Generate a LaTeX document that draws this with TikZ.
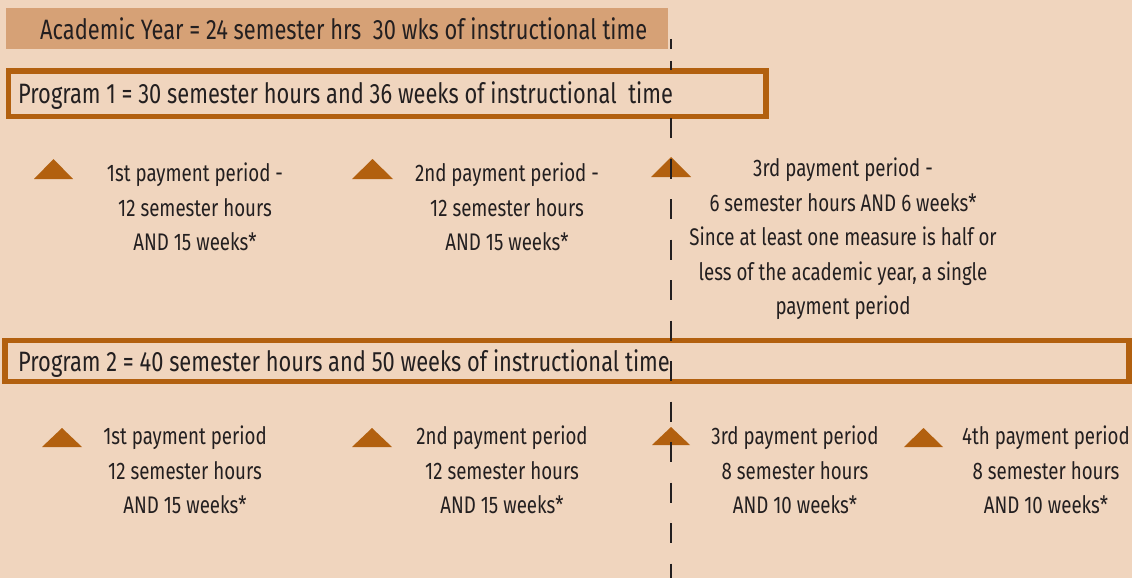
\documentclass[tikz,border=0pt]{standalone}
\usepackage{fontspec}
\setmainfont[FakeStretch=0.78]{Fira Sans}
\definecolor{bgc}{HTML}{F0D5BE}
\definecolor{barc}{HTML}{D6A176}
\definecolor{orc}{HTML}{B2600F}
\definecolor{ink}{HTML}{231F20}
\begin{document}
\begin{tikzpicture}[x=1pt,y=-1pt,
  txt/.style={align=center, font=\fontsize{24}{34.5}\selectfont, text=ink, inner sep=0pt},
  head/.style={font=\fontsize{28}{32}\selectfont, text=ink, inner sep=0pt, anchor=west},
  progbox/.style={draw=orc, line width=5.5pt},
  tri/.style={fill=orc},
  dline/.style={draw=ink, line width=2.7pt}]
\fill[bgc] (0,0) rectangle (1132,578);
\useasboundingbox (0,0) rectangle (1132,578);
% top bar
\fill[barc] (6,8) rectangle (668,49);
\node[head] (ay) at (40,29) {Academic Year = 24 semester hrs\ \ 30 wks of instructional time};
% program boxes
\draw[progbox] (8.5,71) rectangle (766,116.5);
\node[head] (p1) at (18,96) {Program 1 = 30 semester hours and 36 weeks of instructional\ \ time};
\draw[progbox] (5,340.5) rectangle (1129,381.5);
\node[head] (p2) at (18,364) {Program 2 = 40 semester hours and 50 weeks of instructional time};
% triangles
\fill[tri] (34,179) -- (53.5,159) -- (73,179) -- cycle;
\fill[tri] (352,179) -- (372.5,159) -- (393,179) -- cycle;
\fill[tri] (651,177) -- (671,157) -- (691,177) -- cycle;
\fill[tri] (42,447) -- (62,428) -- (82,447) -- cycle;
\fill[tri] (352,447) -- (372,428) -- (392,447) -- cycle;
\fill[tri] (652,445) -- (671,427) -- (690,445) -- cycle;
\fill[tri] (904,447) -- (923.5,428) -- (943,447) -- cycle;
% program 1 texts
\node[txt] (a1) at (195,207) {1st payment period -\\12 semester hours\\AND 15 weeks*};
\node[txt] (a2) at (507,207) {2nd payment period -\\12 semester hours\\AND 15 weeks*};
\node[txt] (a3) at (843,239) {3rd payment period -\\6 semester hours AND 6 weeks*\\Since at least one measure is half or\\less of the academic year, a single\\payment period};
% program 2 texts
\node[txt] (b1) at (185,470) {1st payment period\\12 semester hours\\AND 15 weeks*};
\node[txt] (b2) at (502,470) {2nd payment period\\12 semester hours\\AND 15 weeks*};
\node[txt] (b3) at (795,470) {3rd payment period\\8 semester hours\\AND 10 weeks*};
\node[txt] (b4) at (1046,470) {4th payment period\\8 semester hours\\AND 10 weeks*};
% dashed divider
\draw[dline, dash pattern=on 10pt off 12pt] (671,39) -- (671,70);
\draw[dline, dash pattern=on 20pt off 20.5pt] (671,118) -- (671,578);
\end{tikzpicture}
\end{document}
